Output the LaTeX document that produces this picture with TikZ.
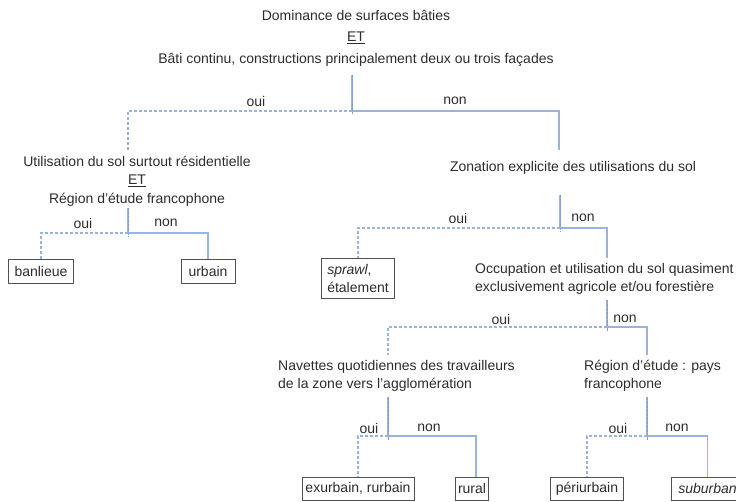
\documentclass[tikz,border=0pt]{standalone}
\usepackage{fontspec}
\setmainfont{Liberation Sans}
\definecolor{txt}{RGB}{45,45,45}
\definecolor{lb}{RGB}{152,180,222}
\definecolor{db}{RGB}{128,158,206}
\definecolor{boxc}{RGB}{80,80,80}
\begin{document}
\begin{tikzpicture}[x=1pt,y=-1pt,
  every node/.style={font=\fontsize{14}{18.5}\selectfont, text=txt, inner sep=0pt},
  leaf/.style={draw=boxc, line width=1pt, minimum height=24pt, inner sep=0pt},
  solidb/.style={draw=lb, line width=1.3pt},
  dashb/.style={draw=lb, line width=1.3pt, dash pattern=on 3pt off 2pt},
  stemb/.style={draw=lb, line width=1.3pt},
  stemover/.style={draw=db, line width=0.6pt, dash pattern=on 2.5pt off 1.5pt}]
\useasboundingbox (0,0) rectangle (736,501);
\clip (0,0) rectangle (736,501);
\fill[white] (0,0) rectangle (736,501);

% question texts
\node (q1a) at (356,15) {Dominance de surfaces bâties};
\node (q1et) at (356,38) {\underline{ET}};
\node (q1b) at (356,60) {Bâti continu, constructions principalement deux ou trois façades};
\node[align=center] (q2) at (137,181) {Utilisation du sol surtout résidentielle\\\underline{ET}\\Région d’étude francophone};
\node (q3) at (573,168) {Zonation explicite des utilisations du sol};
\node[align=left, anchor=west] (q4) at (475,279) {Occupation et utilisation du sol quasiment\\exclusivement agricole et/ou forestière};
\node[align=left, anchor=west] (q5) at (278,376) {Navettes quotidiennes des travailleurs\\de la zone vers l’agglomération};
\node[align=left, anchor=west] (q6) at (584,376) {Région d’étude : pays\\francophone};

% leaves
\node[leaf, minimum width=65pt] (banlieue) at (41,271) {banlieue};
\node[leaf, minimum width=54pt] (urbain) at (208,271) {urbain};
\node[leaf, minimum width=73pt, minimum height=40pt, align=left] (sprawl) at (358,278.5) {\textit{sprawl},\\étalement};
\node[leaf, minimum width=112pt, minimum height=23pt] (exurbain) at (358,488.5) {exurbain, rurbain};
\node[leaf, minimum width=33pt, minimum height=23pt] (rural) at (472,488.5) {rural};
\node[leaf, minimum width=73pt, minimum height=23pt] (periurbain) at (587,488.5) {périurbain};
\node[leaf, minimum width=72pt, minimum height=23pt, anchor=west] (suburban) at (671,488.5) {\textit{suburban}};

% junctions and stem tops
\coordinate (s1) at (352,75);  \coordinate (j1) at (352,111);
\coordinate (t2) at (128,150); \coordinate (t3) at (559,150);
\coordinate (s2) at (128,208); \coordinate (j2) at (128,233);
\coordinate (s3) at (560,195); \coordinate (j3) at (560,228);
\coordinate (t4) at (607,258);
\coordinate (s4) at (607,300); \coordinate (j4) at (607,327);
\coordinate (t5) at (388,355); \coordinate (t6) at (647,355);
\coordinate (s5) at (388,397); \coordinate (j5) at (388,436);
\coordinate (s6) at (647,397); \coordinate (j6) at (647,436);

% stems
\foreach \a/\b in {s1/j1,s2/j2,s3/j3,s4/j4,s5/j5,s6/j6}{
  \draw[stemb] (\a) -- (\b);
  \draw[stemover] (\a) -- ([yshift=-4pt]\b);
}

% branches
\draw[dashb] (j1) -| (t2);
\draw[solidb] (j1) -| (t3);
\draw[dashb] (j2) -| (banlieue.north);
\draw[solidb] (j2) -| (urbain.north);
\draw[dashb] (j3) -| (sprawl.north);
\draw[solidb] (j3) -| (t4);
\draw[dashb] (j4) -| (t5);
\draw[solidb] (j4) -| (t6);
\draw[dashb] (j5) -| (exurbain.north);
\draw[solidb] (j5) -| ([xshift=4pt]rural.north);
\draw[dashb] (j6) -| (periurbain.north);
\draw[solidb] (j6) -| (suburban.north);

% labels
\node (o1) at (256,101) {oui};  \node (n1) at (455,101) {non};
\node (o2) at (83,223) {oui};   \node (n2) at (166,223) {non};
\node (o3) at (458,218) {oui};  \node (n3) at (583,218) {non};
\node (o4) at (501,319) {oui};  \node (n4) at (625,319) {non};
\node (o5) at (369,428) {oui};  \node (n5) at (429,428) {non};
\node (o6) at (618,428) {oui};  \node (n6) at (677,428) {non};
\end{tikzpicture}
\end{document}
